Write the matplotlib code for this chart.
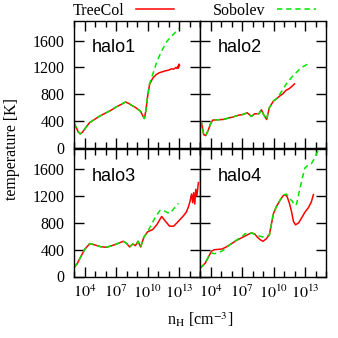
import numpy as np
import matplotlib
matplotlib.use('Agg')
from matplotlib import pyplot as plt
from matplotlib import ticker

plt.rcParams['font.family'] = ['Liberation Serif', 'DejaVu Serif']
plt.rcParams['mathtext.fontset'] = 'stix'

# log10(n_H) and temperature [K]
h1_tc_logn = [3.0, 3.2, 3.4, 3.6, 3.8, 4.1, 4.5, 5.0, 5.5, 6.0, 6.5, 7.0, 7.5, 7.9, 8.2, 8.5,
              8.8, 9.1, 9.35, 9.55, 9.7, 9.85, 10.0, 10.2, 10.5, 10.8, 11.1, 11.4, 11.7, 12.0,
              12.3, 12.5, 12.7, 12.8, 12.9, 12.95, 13.0, 13.05]
h1_tc_T = [370, 310, 240, 210, 235, 300, 380, 430, 480, 520, 560, 610, 650, 685, 665, 635,
           610, 575, 545, 480, 440, 560, 760, 950, 1040, 1090, 1120, 1135, 1150, 1160,
           1180, 1175, 1200, 1185, 1220, 1190, 1250, 1230]
h1_sb_logn = [3.0, 3.2, 3.4, 3.6, 3.8, 4.1, 4.5, 5.0, 5.5, 6.0, 6.5, 7.0, 7.5, 7.9, 8.2, 8.5,
              8.8, 9.1, 9.35, 9.55, 9.7, 9.85, 10.0, 10.2, 10.5, 10.9, 11.3, 11.8, 12.3, 12.7, 13.0]
h1_sb_T = [370, 310, 240, 210, 235, 300, 380, 430, 480, 520, 560, 610, 650, 685, 665, 635,
           610, 575, 545, 480, 440, 560, 760, 960, 1100, 1290, 1430, 1580, 1670, 1730, 1780]

h2_tc_logn = [3.0, 3.15, 3.35, 3.55, 3.8, 4.0, 4.2, 4.6, 5.2, 5.7, 6.2, 6.7, 7.1, 7.5, 7.9,
              8.2, 8.6, 8.85, 9.05, 9.35, 9.6, 9.8, 10.0, 10.3, 10.6, 10.9, 11.2, 11.5, 11.8, 12.0]
h2_tc_T = [420, 370, 200, 185, 270, 360, 415, 420, 425, 445, 465, 490, 500, 525, 470,
           510, 510, 570, 500, 425, 600, 650, 700, 735, 775, 810, 860, 885, 925, 955]
h2_sb_logn = [3.0, 3.15, 3.35, 3.55, 3.8, 4.0, 4.2, 4.6, 5.2, 5.7, 6.2, 6.7, 7.1, 7.5, 7.9,
              8.2, 8.6, 8.85, 9.05, 9.35, 9.6, 9.8, 10.0, 10.3, 10.6, 10.9, 11.2, 11.6, 12.0,
              12.5, 12.9, 13.3]
h2_sb_T = [420, 370, 200, 185, 270, 360, 415, 420, 425, 445, 465, 490, 500, 525, 470,
           510, 510, 570, 500, 425, 600, 650, 700, 740, 800, 875, 950, 1030, 1100,
           1175, 1220, 1255]

h3_tc_logn = [3.0, 3.3, 3.6, 4.0, 4.5, 5.0, 5.5, 6.1, 6.5, 6.9, 7.3, 7.7, 8.0, 8.3, 8.6, 8.85,
              9.1, 9.35, 9.65, 10.0, 10.5, 10.9, 11.35, 11.7, 12.1, 12.5, 12.8, 13.1, 13.4,
              13.7, 13.9, 14.05, 14.2, 14.3, 14.4, 14.5, 14.6, 14.7, 14.85]
h3_tc_T = [130, 190, 280, 400, 490, 470, 445, 435, 455, 475, 500, 525, 495, 440, 485, 460,
           525, 440, 585, 665, 700, 775, 895, 825, 750, 750, 800, 850, 900,
           960, 1040, 1120, 1230, 1100, 1250, 1080, 1300, 1200, 1400]
h3_sb_logn = [3.0, 3.3, 3.6, 4.0, 4.5, 5.0, 5.5, 6.1, 6.5, 6.9, 7.3, 7.7, 8.0, 8.3, 8.6, 8.85,
              9.1, 9.35, 9.65, 10.0, 10.4, 10.8, 11.2, 11.5, 11.8, 12.1, 12.4, 12.7, 12.95]
h3_sb_T = [130, 190, 280, 400, 490, 470, 445, 435, 455, 475, 500, 525, 495, 440, 485, 460,
           525, 440, 585, 665, 780, 900, 985, 990, 960, 940, 990, 1050, 1090]

h4_tc_logn = [3.0, 3.2, 3.5, 3.8, 4.1, 4.4, 4.8, 5.1, 5.5, 6.0, 6.5, 7.0, 7.5, 7.9, 8.2, 8.5,
              8.8, 9.0, 9.3, 9.6, 9.8, 10.0, 10.3, 10.6, 10.9, 11.1, 11.3, 11.5, 11.7, 11.9,
              12.1, 12.4, 12.7, 13.0, 13.3, 13.6, 13.8]
h4_tc_T = [130, 150, 200, 290, 380, 400, 405, 410, 440, 490, 540, 580, 620, 650, 635, 580,
           540, 525, 560, 620, 780, 940, 1050, 1130, 1200, 1220, 1190, 1100, 980, 820,
           770, 800, 880, 960, 1020, 1110, 1220]
h4_sb_logn = [3.0, 3.2, 3.5, 3.8, 4.1, 4.4, 4.8, 5.1, 5.5, 6.0, 6.5, 7.0, 7.3, 7.6, 7.9, 8.3,
              8.7, 9.0, 9.3, 9.6, 9.8, 10.0, 10.3, 10.6, 10.9, 11.2, 11.4, 11.6, 11.8, 12.0,
              12.2, 12.5, 12.8, 13.0, 13.3, 13.6, 13.9, 14.1, 14.3]
h4_sb_T = [130, 150, 210, 290, 350, 340, 360, 380, 430, 490, 545, 590, 640, 630, 650, 620,
           600, 590, 610, 610, 780, 940, 1050, 1130, 1210, 1230, 1200, 1150, 1120, 1060,
           1080, 1300, 1500, 1620, 1660, 1680, 1760, 1830, 1900]

halo_names = ['halo1', 'halo2', 'halo3', 'halo4']
treecol = [(h1_tc_logn, h1_tc_T), (h2_tc_logn, h2_tc_T), (h3_tc_logn, h3_tc_T), (h4_tc_logn, h4_tc_T)]
sobolev = [(h1_sb_logn, h1_sb_T), (h2_sb_logn, h2_sb_T), (h3_sb_logn, h3_sb_T), (h4_sb_logn, h4_sb_T)]

fig = plt.figure(figsize=(3.38, 3.38), dpi=100)

W, H = 338.0, 338.0
left, pw = 74 / W, 126 / W
top_b, bot_b, ph = (338 - 148) / H, (338 - 276.5) / H, 127.5 / H
positions = [(left, top_b), (left + pw, top_b), (left, bot_b), (left + pw, bot_b)]

red = '#ff0000'
green = '#00e600'

for i, (x0, y0) in enumerate(positions):
    ax = fig.add_axes([x0, y0, pw, ph])
    ln, lt = treecol[i]
    sn, st = sobolev[i]
    l1, = ax.plot(10.0 ** np.array(ln), lt, color=red, lw=1.1, label='TreeCol')
    l2, = ax.plot(10.0 ** np.array(sn), st, color=green, lw=1.1,
                  linestyle=(0, (3.5, 2.5)), label='Sobolev')
    ax.set_xscale('log')
    ax.set_xlim(1e3, 1e15)
    ax.set_ylim(0, 1900)
    ax.xaxis.set_major_locator(ticker.FixedLocator([1e4, 1e7, 1e10, 1e13]))
    ax.xaxis.set_minor_locator(ticker.FixedLocator([10.0 ** k for k in range(3, 16)]))
    ax.xaxis.set_major_formatter(ticker.FuncFormatter(
        lambda v, p: r'$10^{%d}$' % int(round(np.log10(v)))))
    ax.xaxis.set_minor_formatter(ticker.NullFormatter())
    ax.yaxis.set_major_locator(ticker.FixedLocator([0, 400, 800, 1200, 1600]))
    ax.tick_params(which='both', direction='in', top=True, right=True,
                   labelsize=11.5, width=1.0)
    ax.tick_params(which='major', length=7)
    ax.tick_params(which='minor', length=4)
    ax.tick_params(axis='x', pad=6)
    ax.tick_params(axis='y', pad=7)
    for s in ax.spines.values():
        s.set_linewidth(1.0)
    if i % 2 == 1:
        ax.tick_params(labelleft=False)
    if i < 2:
        ax.tick_params(labelbottom=False)
    ax.text(0.143, 0.787, halo_names[i], transform=ax.transAxes,
            family='Liberation Sans', fontsize=13, va='center', ha='left')

fig.legend(handles=[l1, l2], loc='center', bbox_to_anchor=(194 / W, 1 - 11 / H),
           ncol=2, frameon=False, markerfirst=False, fontsize=11.5,
           handlelength=2.4, handletextpad=0.75, columnspacing=2.4,
           borderpad=0, borderaxespad=0)

fig.text(200 / W, 1 - 320 / H, r'n$_\mathrm{H}$ [cm$^{-3}$]', ha='center', va='center',
         fontsize=11.5)
fig.text(12.5 / W, 1 - 149 / H, 'temperature [K]', rotation=90, ha='center', va='center',
         fontsize=11.5)

fig.savefig('out.png', dpi=100)
